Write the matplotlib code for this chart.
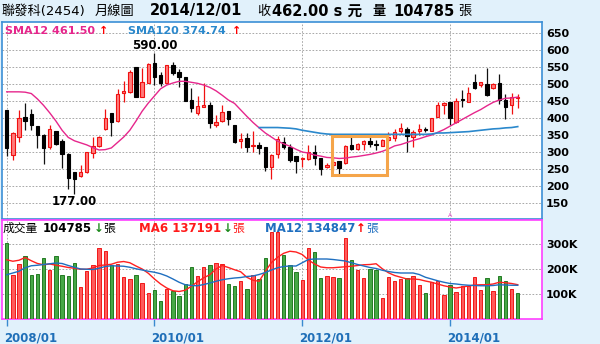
import numpy as np
import matplotlib.pyplot as plt
import matplotlib.patches as patches
import matplotlib.transforms as mtransforms

plt.rcParams['font.family'] = ['DejaVu Sans', 'Noto Sans CJK TC']

W, H = 600, 344

# monthly candles 2008/01 .. 2014/12
open_ = [424, 291, 343, 404, 412, 377, 350, 316, 362, 333,
         294, 240, 228, 242, 296, 319, 368, 416, 391, 473,
         477, 549, 463, 504, 561, 526, 504, 556, 536, 520,
         453, 416, 433, 438, 380, 391, 422, 380, 332, 340,
         318, 321, 314, 257, 294, 330, 316, 288, 279, 279,
         301, 281, 255, 262, 274, 267, 321, 308, 324, 332,
         324, 319, 335, 340, 362, 367, 343, 362, 368, 363,
         404, 438, 446, 389, 456, 448, 505, 497, 500, 487,
         502, 453, 438, 459]
close = [311, 355, 399, 392, 380, 350, 311, 367, 323, 294,
         223, 221, 241, 301, 319, 343, 399, 389, 471, 478,
         536, 463, 507, 559, 520, 502, 556, 533, 522, 451,
         428, 435, 438, 384, 389, 417, 396, 330, 338, 316,
         320, 311, 257, 291, 337, 316, 277, 275, 283, 301,
         281, 249, 262, 272, 252, 318, 308, 323, 332, 323,
         322, 335, 343, 360, 372, 348, 360, 368, 364, 399,
         438, 445, 399, 450, 453, 473, 487, 505, 468, 500,
         453, 431, 463, 462]
high = [424, 360, 424, 445, 426, 377, 352, 379, 362, 337,
        296, 242, 262, 301, 343, 347, 426, 416, 484, 509,
        541, 551, 546, 561, 590, 536, 556, 566, 543, 520,
        489, 465, 502, 448, 409, 438, 422, 380, 355, 355,
        363, 330, 314, 294, 347, 343, 324, 288, 286, 321,
        321, 281, 267, 286, 274, 321, 343, 326, 335, 347,
        335, 337, 358, 367, 384, 375, 365, 382, 375, 399,
        448, 448, 448, 458, 482, 490, 529, 507, 546, 502,
        529, 471, 475, 471]
low = [288, 277, 330, 365, 365, 311, 264, 308, 320, 252,
       190, 177, 226, 239, 281, 314, 365, 347, 389, 446,
       475, 461, 461, 502, 497, 494, 502, 526, 492, 450,
       419, 409, 431, 370, 375, 389, 380, 326, 311, 301,
       301, 294, 245, 220, 281, 308, 272, 239, 257, 277,
       262, 232, 252, 247, 235, 265, 306, 306, 306, 314,
       306, 318, 330, 333, 357, 301, 314, 350, 360, 362,
       402, 412, 380, 386, 433, 446, 485, 492, 466, 484,
       441, 396, 412, 428]

sma12 = [477, 477, 477, 476, 472, 456, 437, 415, 391, 364,
         343, 333, 327, 321, 313, 306, 307, 312, 328, 344,
         364, 391, 420, 444, 465, 486, 497, 503, 508, 508,
         505, 502, 497, 490, 480, 467, 453, 443, 424, 405,
         387, 371, 356, 344, 332, 324, 317, 308, 300, 297,
         291, 288, 284, 283, 281, 282, 285, 287, 290, 293,
         297, 302, 309, 318, 322, 328, 334, 339, 345, 350,
         358, 366, 376, 386, 396, 406, 416, 425, 436, 446,
         453, 458, 459, 461.5]
sma120 = [np.nan] * 41 + [
    372, 372, 372, 372, 371, 370, 368, 364, 361,
    358, 355, 353, 352, 352, 352, 352, 352, 352, 352,
    352, 352, 352, 352, 352, 352, 352, 352, 352, 353,
    356, 356, 357, 358, 359, 360, 362, 364, 366, 368,
    369, 371, 372, 374.74]

# volume in thousand lots
volume = [304, 175, 221, 251, 177, 181, 244, 197, 253, 175,
          171, 224, 128, 191, 215, 284, 273, 215, 221, 168,
          161, 177, 144, 104, 117, 73, 121, 113, 93, 141,
          208, 173, 208, 217, 224, 221, 141, 133, 153, 120,
          177, 161, 244, 347, 347, 257, 217, 188, 157, 284,
          267, 164, 173, 168, 164, 324, 237, 197, 164, 200,
          197, 84, 167, 151, 160, 164, 173, 137, 104, 147,
          153, 97, 137, 108, 133, 133, 168, 117, 164, 111,
          173, 151, 120, 104.785]
ma6 = [237, 231, 235, 246, 233, 222, 217, 220, 215, 211,
       206, 203, 199, 199, 204, 214, 216, 219, 227, 230,
       225, 212, 200, 183, 160, 140, 124, 113, 110, 115,
       131, 149, 165, 177, 200, 214, 206, 197, 189, 167,
       155, 151, 190, 226, 247, 263, 271, 268, 258, 236,
       220, 208, 205, 205, 207, 209, 211, 214, 217, 218,
       221, 201, 185, 174, 167, 160, 160, 158, 152, 147,
       140, 133, 128, 124, 128, 132, 136, 137, 137, 140,
       147, 145, 142, 137.191]
ma12 = [177, 184, 191, 205, 213, 215, 218, 221, 224, 222,
        214, 207, 200, 199, 198, 203, 210, 213, 212, 211,
        207, 201, 196, 191, 187, 181, 172, 160, 147, 137,
        134, 133, 138, 144, 151, 157, 161, 164, 166, 170,
        172, 178, 186, 196, 205, 210, 212, 212, 225, 238,
        240, 240, 240, 238, 235, 232, 225, 218, 212, 206,
        202, 195, 190, 186, 184, 184, 184, 178, 167, 160,
        153, 147, 142, 140, 137, 135, 134, 133, 133, 134,
        137, 136, 135, 134.847]

x_ticks = [0, 24, 48, 72]
x_labels = ['2008/01', '2010/01', '2012/01', '2014/01']
price_ticks = [150, 200, 250, 300, 350, 400, 450, 500, 550, 600, 650]
vol_ticks = [100, 200, 300]
vol_labels = ['100K', '200K', '300K']

BG = '#e1f1fb'
SMA12_C = '#e6268c'
SMA120_C = '#2a88cc'
GRID = '#9a9a9a'

fig = plt.figure(figsize=(W / 100, H / 100), dpi=100, facecolor=BG)


def px_axes(x0, y0, x1, y1):
    return fig.add_axes([x0 / W, 1 - y1 / H, (x1 - x0) / W, (y1 - y0) / H])


def ptext(x, y, s, **kw):
    fig.text(x / W, 1 - y / H, s, ha='left', va='center', **kw)


ax = px_axes(2, 22, 542, 219)
axv = px_axes(2, 220, 542, 319)

n = len(close)
xs = np.arange(n)
o = np.array(open_, dtype=float)
c = np.array(close, dtype=float)
up = c >= o

# candles
for i in range(n):
    if up[i]:
        ax.vlines(xs[i], low[i], high[i], color='#f01010', lw=0.9, zorder=3)
        ax.bar(xs[i], max(abs(c[i] - o[i]), 1.5), bottom=min(o[i], c[i]), width=0.55,
               color='#ff7c7c', edgecolor='#f01010', lw=0.8, zorder=4)
    else:
        ax.vlines(xs[i], low[i], high[i], color='#111111', lw=0.9, zorder=3)
        ax.bar(xs[i], max(abs(c[i] - o[i]), 1.5), bottom=min(o[i], c[i]), width=0.55,
               color='black', edgecolor='black', lw=0.8, zorder=4)

ax.plot(xs, sma12, color=SMA12_C, lw=1.0, zorder=5)
ax.plot(xs, sma120, color=SMA120_C, lw=1.2, zorder=5)

ax.add_patch(patches.Rectangle((52.9, 232), 8.8, 116, fill=False,
                               edgecolor='#f5a54a', lw=2.2, zorder=6))

ax.annotate('590.00', xy=(24, 590), xytext=(0, 1), textcoords='offset points',
            ha='center', va='bottom', fontsize=8.5, fontweight='bold')
ax.annotate('177.00', xy=(11, 177), xytext=(0, -1), textcoords='offset points',
            ha='center', va='top', fontsize=8.5, fontweight='bold')
ax.text(72, 0.005, 'A', transform=ax.get_xaxis_transform(), fontsize=4.5,
        color='#e040c0', ha='center', va='bottom')

ax.set_xlim(-0.76, 86.94)
ax.set_ylim(103, 682.4)
ax.set_xticks(x_ticks)
ax.set_yticks(price_ticks)
ax.yaxis.tick_right()
ax.tick_params(axis='x', length=0, labelbottom=False)
ax.tick_params(axis='y', length=0, pad=3, labelsize=8)
for t in ax.get_yticklabels():
    t.set_fontweight('bold')
ax.grid(True, color=GRID, linestyle=(0, (2, 2)), lw=0.6)
ax.set_facecolor('white')
for s in ax.spines.values():
    s.set_color('#3b8fd6')
    s.set_linewidth(1.2)

# volume, coloured by close against previous close
for i in range(n):
    prev = close[i - 1] if i > 0 else open_[i]
    if close[i] >= prev:
        axv.bar(xs[i], volume[i], width=0.55, color='#ff5a5a', edgecolor='#f01818', lw=0.7, zorder=3)
    else:
        axv.bar(xs[i], volume[i], width=0.55, color='#46a846', edgecolor='#237a23', lw=0.7, zorder=3)
axv.plot(xs, ma6, color='#ff2020', lw=1.0, zorder=4)
axv.plot(xs, ma12, color='#1f6fc0', lw=1.0, zorder=4)

axv.set_xlim(-0.76, 86.94)
axv.set_ylim(0, 396)
axv.set_yticks(vol_ticks)
axv.set_yticklabels(vol_labels)
axv.yaxis.tick_right()
axv.tick_params(axis='y', length=0, pad=3, labelsize=8)
for t in axv.get_yticklabels():
    t.set_fontweight('bold')
axv.set_xticks(x_ticks)
axv.set_xticklabels(x_labels)
axv.tick_params(axis='x', length=5, width=1, color='#3a8ad0', pad=4,
                labelsize=8.5, labelcolor='#1f6fb8')
shift = mtransforms.ScaledTranslation(-3 / 100, 0, fig.dpi_scale_trans)
for t in axv.get_xticklabels():
    t.set_fontweight('bold')
    t.set_ha('left')
    t.set_transform(t.get_transform() + shift)
axv.grid(True, color=GRID, linestyle=(0, (2, 2)), lw=0.6)
axv.set_facecolor('white')
for s in axv.spines.values():
    s.set_color('#ff40ff')
    s.set_linewidth(1.2)

# header
ptext(2, 11, '聯發科(2454)', fontsize=9.5)
ptext(95, 11, '月線圖', fontsize=9.5)
ptext(150, 11, '2014/12/01', fontsize=10.5, fontweight='bold')
ptext(257, 11, '收', fontsize=9.5)
ptext(272, 11, '462.00 s 元', fontsize=10.5, fontweight='bold')
ptext(372, 11, '量', fontsize=9.5, fontweight='bold')
ptext(393, 11, '104785', fontsize=10.5, fontweight='bold')
ptext(458, 11, '張', fontsize=9.5)

# price legend
ptext(5, 31, 'SMA12 461.50', fontsize=8, fontweight='bold', color=SMA12_C)
ptext(99, 31, '↑', fontsize=8, fontweight='bold', color='#ff0000')
ptext(128, 31, 'SMA120 374.74', fontsize=8, fontweight='bold', color=SMA120_C)
ptext(232, 31, '↑', fontsize=8, fontweight='bold', color='#ff0000')

# volume legend
ptext(3, 228, '成交量', fontsize=8.5)
ptext(43, 228, '104785', fontsize=8.5, fontweight='bold')
ptext(94, 228, '↓', fontsize=8.5, fontweight='bold', color='#1e8a1e')
ptext(103, 228, '張', fontsize=8.5)
ptext(139, 228, 'MA6 137191', fontsize=8.5, fontweight='bold', color='#ff1a1a')
ptext(223, 228, '↓', fontsize=8.5, fontweight='bold', color='#1e8a1e')
ptext(232, 228, '張', fontsize=8.5, color='#ff1a1a')
ptext(265, 228, 'MA12 134847', fontsize=8.5, fontweight='bold', color='#1f6fc0')
ptext(356, 228, '↑', fontsize=8.5, fontweight='bold', color='#ff0000')
ptext(366, 228, '張', fontsize=8.5, color='#1f6fc0')

fig.savefig('out.png', dpi=100, facecolor=BG)
